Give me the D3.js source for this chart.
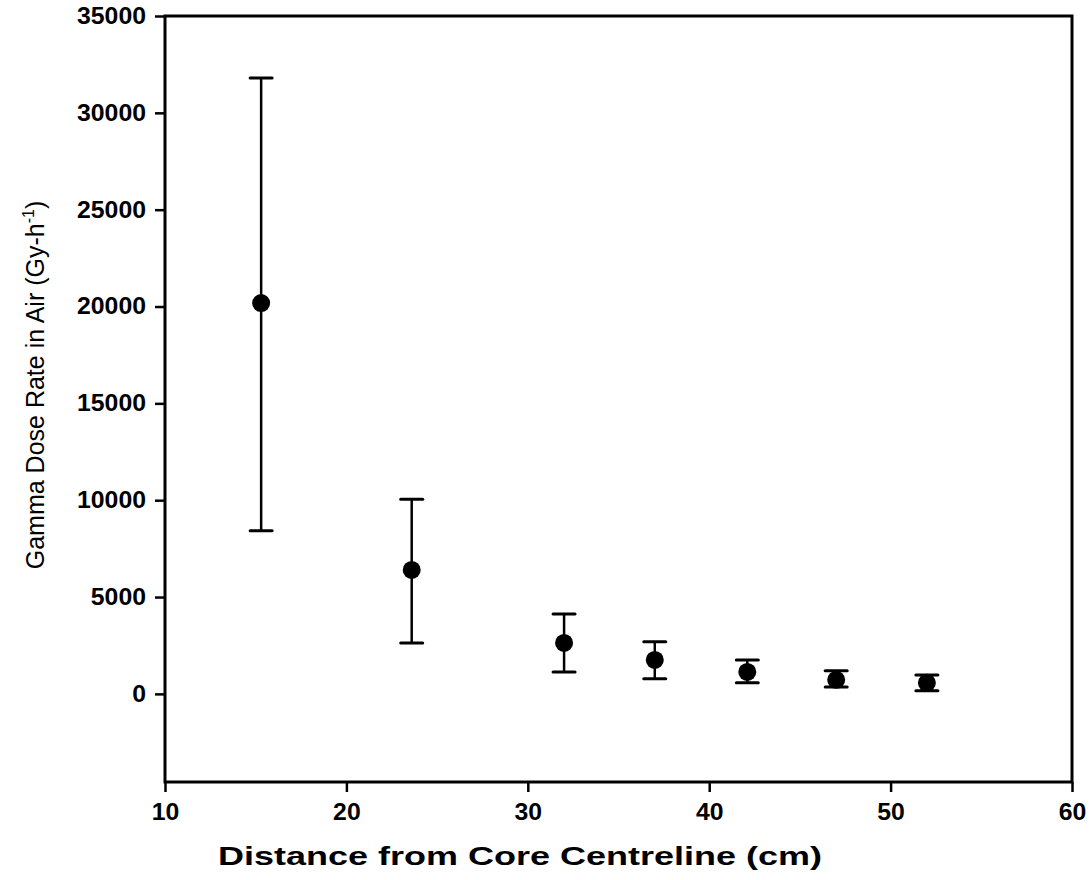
<!DOCTYPE html>
<html>
<head>
<meta charset="utf-8">
<script src="https://cdn.jsdelivr.net/npm/d3@7"></script>
<style>
  body { margin: 0; background: #fff; }
  svg { display: block; }
  text { font-family: "Liberation Sans", Arial, sans-serif; fill: #000; }
</style>
</head>
<body>
<div id="chart"></div>
<script>
// distance from core centreline (cm)
const distances = [15.3, 23.6, 32.0, 37.0, 42.1, 47.0, 52.0];
// gamma dose rate in air (Gy/h), mean and error bar ends
const doseRates = [20180, 6400, 2630, 1755, 1135, 725, 570];
const doseUpper = [31800, 10050, 4130, 2690, 1755, 1190, 980];
const doseLower = [8420, 2630, 1135, 775, 570, 360, 160];

const xTicks = [10, 20, 30, 40, 50, 60];
const yTicks = [0, 5000, 10000, 15000, 20000, 25000, 30000, 35000];

const width = 1090, height = 880;
const margin = { top: 16, right: 18, bottom: 98, left: 165 };

const svg = d3.select("#chart").append("svg")
    .attr("width", width)
    .attr("height", height);

const x = d3.scaleLinear()
    .domain([10, 60])
    .range([margin.left, width - margin.right]);

const y = d3.scaleLinear()
    .domain([-4550, 35000])
    .range([height - margin.bottom, margin.top]);

// frame around the plot
svg.append("rect")
    .attr("x", x(10))
    .attr("y", y(35000))
    .attr("width", x(60) - x(10))
    .attr("height", y(-4550) - y(35000))
    .attr("fill", "none")
    .attr("stroke", "#000")
    .attr("stroke-width", 3);

const xAxis = svg.append("g")
    .attr("transform", `translate(0,${y(-4550)})`)
    .call(d3.axisBottom(x).tickValues(xTicks).tickSize(10).tickPadding(10).tickFormat(d3.format("d")));

const yAxis = svg.append("g")
    .attr("transform", `translate(${x(10)},0)`)
    .call(d3.axisLeft(y).tickValues(yTicks).tickSize(10).tickPadding(9).tickFormat(d3.format("d")));

[xAxis, yAxis].forEach(g => {
    g.select(".domain").remove();
    g.selectAll(".tick line").attr("stroke", "#000").attr("stroke-width", 2.5);
    g.selectAll(".tick text")
        .attr("font-size", 23)
        .attr("font-weight", "bold")
        .attr("font-family", "Liberation Sans, Arial, sans-serif")
        .attr("textLength", d => String(d).length * 13.8)
        .attr("lengthAdjust", "spacingAndGlyphs");
});
xAxis.selectAll(".tick text").attr("dy", "0.78em");

// error bars
const points = distances.map((d, i) => ({ x: d, y: doseRates[i], hi: doseUpper[i], lo: doseLower[i] }));
const capHalf = 11;

const bars = svg.append("g").selectAll("g")
    .data(points)
    .enter().append("g");

bars.append("line")
    .attr("x1", d => x(d.x)).attr("x2", d => x(d.x))
    .attr("y1", d => y(d.hi)).attr("y2", d => y(d.lo))
    .attr("stroke", "#000").attr("stroke-width", 2.5);

bars.selectAll(".cap")
    .data(d => [{ x: d.x, v: d.hi }, { x: d.x, v: d.lo }])
    .enter().append("line")
    .attr("class", "cap")
    .attr("x1", d => x(d.x) - capHalf).attr("x2", d => x(d.x) + capHalf)
    .attr("y1", d => y(d.v)).attr("y2", d => y(d.v))
    .attr("stroke", "#000").attr("stroke-width", 3)
    .attr("stroke-linecap", "round");

bars.append("circle")
    .attr("cx", d => x(d.x))
    .attr("cy", d => y(d.y))
    .attr("r", 9)
    .attr("fill", "#000");

// axis titles
svg.append("text")
    .attr("x", 218)
    .attr("y", 865)
    .attr("font-size", 25)
    .attr("font-weight", "bold")
    .attr("textLength", 604)
    .attr("lengthAdjust", "spacingAndGlyphs")
    .text("Distance from Core Centreline (cm)");

const yTitle = svg.append("text")
    .attr("transform", "translate(44,385) rotate(-90)")
    .attr("text-anchor", "middle")
    .attr("font-size", 25);
yTitle.append("tspan").text("Gamma Dose Rate in Air (Gy-h");
yTitle.append("tspan").attr("dy", -10).attr("font-size", 16).text("-1");
yTitle.append("tspan").attr("dy", 10).text(")");
</script>
</body>
</html>
